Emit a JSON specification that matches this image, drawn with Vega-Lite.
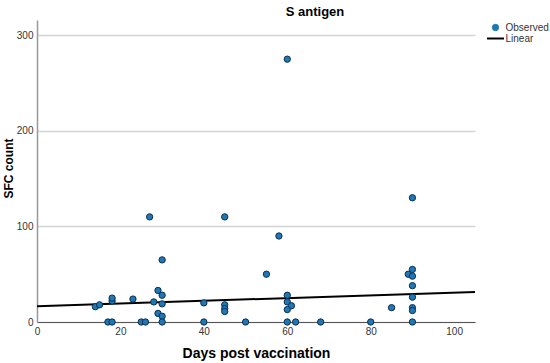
{
  "$schema": "https://vega.github.io/schema/vega-lite/v6.json",
  "width": 438,
  "height": 302,
  "autosize": {"type": "none"},
  "padding": {"left": 37, "top": 20, "right": 75, "bottom": 41},
  "background": "white",
  "config": {
    "view": {"stroke": null},
    "font": "Liberation Sans"
  },
  "title": {
    "text": "S antigen",
    "fontSize": 13,
    "fontWeight": "bold",
    "font": "Liberation Sans",
    "color": "#000000",
    "anchor": "middle",
    "dx": 59,
    "offset": 1
  },
  "datasets": {
    "obs": [
      {"days": 14, "sfc": 16}, {"days": 15, "sfc": 18}, {"days": 17, "sfc": 0}, {"days": 18, "sfc": 0},
      {"days": 18, "sfc": 22}, {"days": 18, "sfc": 25}, {"days": 23, "sfc": 24}, {"days": 25, "sfc": 0},
      {"days": 26, "sfc": 0}, {"days": 27, "sfc": 110}, {"days": 28, "sfc": 21}, {"days": 29, "sfc": 33},
      {"days": 29, "sfc": 9}, {"days": 30, "sfc": 65}, {"days": 30, "sfc": 28}, {"days": 30, "sfc": 19},
      {"days": 30, "sfc": 6}, {"days": 30, "sfc": 0}, {"days": 40, "sfc": 20}, {"days": 40, "sfc": 0},
      {"days": 45, "sfc": 110}, {"days": 45, "sfc": 18}, {"days": 45, "sfc": 14}, {"days": 45, "sfc": 11},
      {"days": 50, "sfc": 0}, {"days": 55, "sfc": 50}, {"days": 58, "sfc": 90}, {"days": 60, "sfc": 275},
      {"days": 60, "sfc": 28}, {"days": 60, "sfc": 21}, {"days": 61, "sfc": 17}, {"days": 60, "sfc": 13},
      {"days": 60, "sfc": 0}, {"days": 62, "sfc": 0}, {"days": 68, "sfc": 0}, {"days": 80, "sfc": 0},
      {"days": 85, "sfc": 15}, {"days": 89, "sfc": 50}, {"days": 90, "sfc": 130}, {"days": 90, "sfc": 55},
      {"days": 90, "sfc": 48}, {"days": 90, "sfc": 38}, {"days": 90, "sfc": 26}, {"days": 90, "sfc": 15},
      {"days": 90, "sfc": 12}, {"days": 90, "sfc": 0}
    ],
    "fit": [
      {"days": 0, "sfc": 16.5},
      {"days": 105, "sfc": 31.4}
    ]
  },
  "encoding": {
    "x": {
      "field": "days",
      "type": "quantitative",
      "scale": {"domain": [0, 105], "nice": false, "zero": false},
      "axis": {
        "title": "Days post vaccination",
        "values": [0, 20, 40, 60, 80, 100],
        "grid": false,
        "ticks": false,
        "domainColor": "#555555",
        "domainWidth": 1,
        "labelFont": "Liberation Sans",
        "labelFontSize": 10,
        "labelColor": "#333333",
        "labelPadding": 4,
        "labelFlush": false,
        "titleFont": "Liberation Sans",
        "titleFontSize": 14,
        "titleFontWeight": "bold",
        "titleColor": "#000000",
        "titleY": 24,
        "titleBaseline": "top"
      }
    },
    "y": {
      "field": "sfc",
      "type": "quantitative",
      "scale": {"domain": [0, 316], "nice": false},
      "axis": {
        "title": "SFC count",
        "values": [0, 100, 200, 300],
        "grid": true,
        "gridColor": "#d4d4d4",
        "gridWidth": 1.5,
        "ticks": false,
        "domainColor": "#999999",
        "domainWidth": 1.5,
        "labelFont": "Liberation Sans",
        "labelFontSize": 10,
        "labelColor": "#333333",
        "labelPadding": 4,
        "labelFlush": false,
        "titleFont": "Liberation Sans",
        "titleFontSize": 12,
        "titleFontWeight": "bold",
        "titleColor": "#000000",
        "titleX": -22,
        "titleY": 148
      }
    },
    "color": {
      "datum": "Observed",
      "type": "nominal",
      "scale": {"domain": ["Observed", "Linear"], "range": ["#1f78b4", "#000000"]},
      "legend": {
        "title": null,
        "orient": "none",
        "legendX": 453.5,
        "legendY": 2.5,
        "labelFont": "Liberation Sans",
        "labelFontSize": 10,
        "labelColor": "#333333",
        "labelOffset": 5,
        "rowPadding": -3,
        "symbolSize": 289,
        "encode": {
          "symbols": {
            "update": {
              "shape": {"signal": "datum.value === 'Linear' ? 'stroke' : 'circle'"},
              "size": {"signal": "datum.value === 'Linear' ? 289 : 40"},
              "fill": {"signal": "datum.value === 'Linear' ? 'transparent' : '#1f78b4'"},
              "stroke": {"signal": "datum.value === 'Linear' ? '#000000' : '#0d2f52'"},
              "strokeWidth": {"signal": "datum.value === 'Linear' ? 2 : 1"},
              "opacity": {"value": 1}
            }
          }
        }
      }
    }
  },
  "layer": [
    {
      "data": {"name": "fit"},
      "mark": {"type": "line", "strokeWidth": 2, "clip": true},
      "encoding": {
        "color": {"datum": "Linear", "type": "nominal"}
      }
    },
    {
      "data": {"name": "obs"},
      "mark": {"type": "point", "filled": true, "size": 40, "stroke": "#0d2f52", "strokeWidth": 1, "opacity": 1},
      "encoding": {
        "color": {"datum": "Observed", "type": "nominal"}
      }
    }
  ]
}
